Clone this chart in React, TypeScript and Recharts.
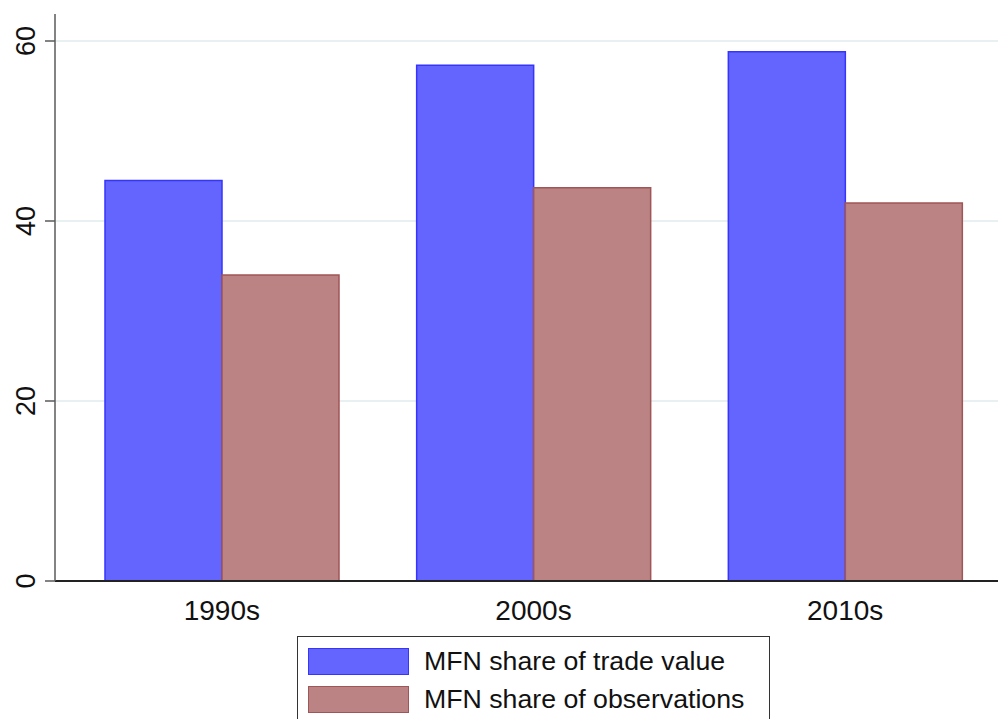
import { BarChart, Bar, XAxis, YAxis, CartesianGrid } from "recharts";

// values (percent)
const decades = ["1990s", "2000s", "2010s"];
const tradeValueShare = [44.5, 57.3, 58.8];
const observationsShare = [34.0, 43.7, 42.0];
const yTicks = [0, 20, 40, 60];

const series = [
  { key: "tradeValue", name: "MFN share of trade value", fill: "#6464ff", stroke: "#3535ff" },
  { key: "observations", name: "MFN share of observations", fill: "#bb8383", stroke: "#a05656" },
];

const chartData = decades.map((decade, i) => ({
  decade,
  tradeValue: tradeValueShare[i],
  observations: observationsShare[i],
}));

const FONT = "'Liberation Sans', Arial, Helvetica, sans-serif";

function YTick({ x, y, payload }: any) {
  const bx = x - 10;
  return (
    <text
      x={bx}
      y={y}
      transform={`rotate(-90 ${bx} ${y})`}
      textAnchor="middle"
      fontSize={27}
      fontFamily={FONT}
      fill="#111"
    >
      {payload.value}
    </text>
  );
}

function XTick({ x, y, payload }: any) {
  return (
    <text x={x} y={y + 39} textAnchor="middle" fontSize={28} fontFamily={FONT} fill="#111">
      {payload.value}
    </text>
  );
}

function LegendBox() {
  return (
    <div
      style={{
        position: "absolute",
        left: 297,
        top: 636,
        width: 473,
        height: 100,
        boxSizing: "border-box",
        border: "1.5px solid #333",
        background: "#fff",
        fontFamily: FONT,
        fontSize: 26.7,
        color: "#111",
      }}
    >
      {series.map((s, i) => (
        <div key={s.key}>
          <div
            style={{
              position: "absolute",
              left: 10,
              top: 11 + i * 38,
              width: 101,
              height: 27,
              boxSizing: "border-box",
              background: s.fill,
              border: `1.5px solid ${s.stroke}`,
            }}
          />
          <div
            style={{
              position: "absolute",
              left: 126,
              top: 11 + i * 38,
              height: 27,
              lineHeight: "27px",
              whiteSpace: "nowrap",
            }}
          >
            {s.name}
          </div>
        </div>
      ))}
    </div>
  );
}

export default function App() {
  return (
    <div
      style={{
        position: "fixed",
        left: 0,
        top: 0,
        width: 998,
        height: 719,
        overflow: "hidden",
        background: "#fff",
      }}
    >
      <BarChart
        width={1001}
        height={719}
        data={chartData}
        margin={{ top: 14, right: 0, left: 0, bottom: 0 }}
        barCategoryGap={39}
        barGap={0}
      >
        <CartesianGrid vertical={false} horizontalValues={yTicks} stroke="#e8f0f2" strokeWidth={2} />
        <XAxis
          dataKey="decade"
          height={138}
          padding={{ left: 11, right: 0 }}
          tickLine={false}
          tickSize={0}
          tickMargin={0}
          axisLine={{ stroke: "#222", strokeWidth: 2 }}
          tick={<XTick />}
          interval={0}
        />
        <YAxis
          width={55}
          domain={[0, 63]}
          ticks={yTicks}
          tickSize={10}
          tickMargin={0}
          axisLine={{ stroke: "#5a5a5a", strokeWidth: 1.5 }}
          tickLine={{ stroke: "#5a5a5a", strokeWidth: 1.5 }}
          tick={<YTick />}
          interval={0}
        />
        {series.map((s) => (
          <Bar
            key={s.key}
            dataKey={s.key}
            name={s.name}
            fill={s.fill}
            stroke={s.stroke}
            strokeWidth={1.5}
            isAnimationActive={false}
          />
        ))}
      </BarChart>
      <LegendBox />
    </div>
  );
}
